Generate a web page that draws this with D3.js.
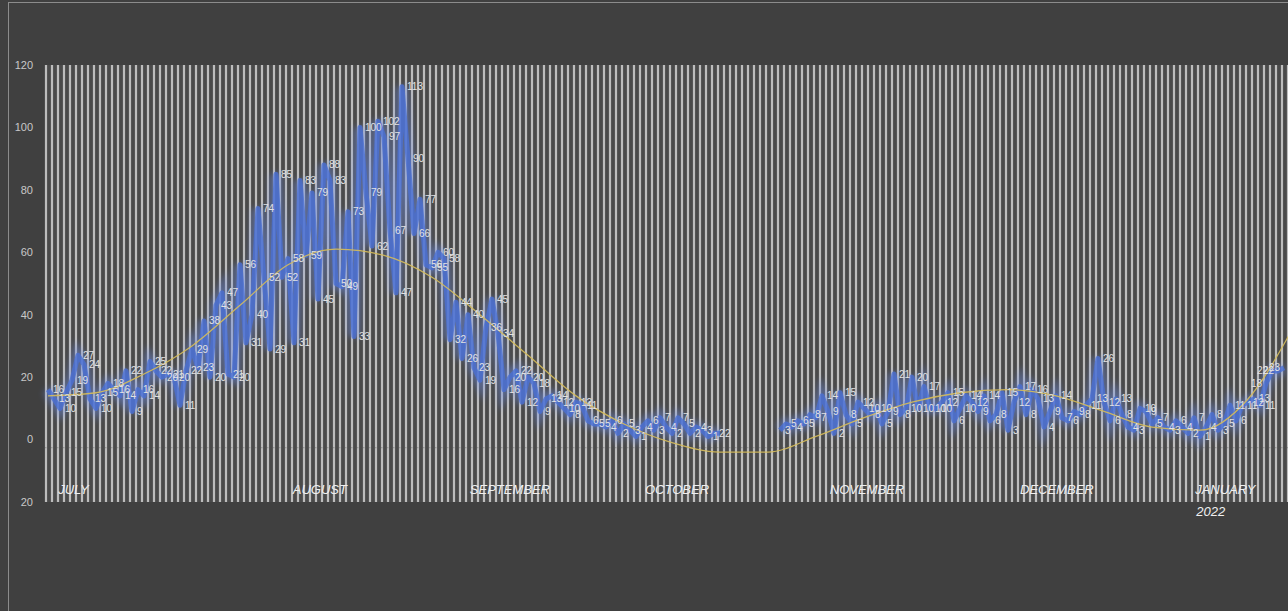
<!DOCTYPE html>
<html><head><meta charset="utf-8">
<script src="https://cdn.jsdelivr.net/npm/d3@7"></script>
<style>
body{margin:0;background:#404040;overflow:hidden}
svg{display:block}
text{font-family:"Liberation Sans","DejaVu Sans",sans-serif}
</style>
</head><body>
<svg id="chart" width="1288" height="611"></svg>
<script>
// Daily values (index 0 = first day of July 2021); null = no data
const dailyValues = [
 16,13,10,15,19,27,24,13,10,15,18,16,14,22,9,16,14,25,22,20,
 21,20,11,22,29,23,38,20,43,47,21,20,56,31,40,74,52,29,85,52,
 58,31,83,59,79,45,88,83,50,49,73,33,100,79,62,102,97,67,47,113,
 90,66,77,56,55,60,58,32,44,26,40,23,19,36,45,34,16,20,22,12,
 20,18,9,13,14,12,10,8,12,11,6,5,5,4,6,2,5,3,1,4,
 6,3,7,4,2,7,5,2,4,3,1,2,2,null,null,null,null,null,null,null,
 null,null,3,5,4,6,5,8,7,14,9,2,15,8,5,12,10,8,10,5,
 9,21,8,10,20,10,17,10,10,12,15,6,10,14,12,9,14,6,8,15,
 3,12,17,8,16,13,4,9,14,7,6,9,8,11,13,26,12,6,13,8,
 4,3,10,9,5,7,4,3,6,4,2,7,1,4,8,3,5,11,6,11,
 12,13,11,18,22,22,23
];
// Trend line values read at category indices
const trendIndex  = [0,8,16,24,32,40,48,56,64,72,80,88,96,104,112,120,128,136,144,152,160,168,176,184,192,200,207];
const trendValues = [14,15,21,30,43,56,61,59,52,40,27,14,5,-1,-4,-4,1,7,12,15,16,14,9,4,3,13,34];
// Category-axis labels
const monthLabels = ["JULY","AUGUST","SEPTEMBER","OCTOBER","NOVEMBER","DECEMBER","JANUARY"];
const monthLabelIndex = [1.7,40.8,70.3,99.5,130.3,162,191.2];
const yearLabel = "2022";
const yTicks = [120,100,80,60,40,20,0,-20];
const yTickText = ["120","100","80","60","40","20","0","20"];
const nCategories = 208;

const svg = d3.select("#chart");
const W = 1288, H = 611;
const x = d3.scaleLinear().domain([0, nCategories - 1]).range([48, 48 + (nCategories - 1) * 6]);
const y = d3.scaleLinear().domain([-20, 120]).range([502, 65]);

// background + chart border
svg.append("rect").attr("width", W).attr("height", H).attr("fill", "#404040");
svg.append("rect").attr("x", 8.5).attr("y", 2.5).attr("width", W).attr("height", H)
  .attr("fill", "none").attr("stroke", "#8c8c8c").attr("stroke-width", 1);

const defs = svg.append("defs");
const glow = defs.append("filter").attr("id", "glow").attr("x", "-10%").attr("y", "-10%").attr("width", "120%").attr("height", "120%");
glow.append("feGaussianBlur").attr("stdDeviation", 3);
const soft = defs.append("filter").attr("id", "soft");
soft.append("feGaussianBlur").attr("stdDeviation", 0.4);

// plot background
svg.append("rect").attr("x", 45).attr("y", y(120)).attr("width", W - 45).attr("height", y(-20) - y(120)).attr("fill", "#4a4a4a");

// vertical gridlines (one per category)
svg.append("g").attr("filter", "url(#soft)").selectAll("line").data(d3.range(nCategories)).join("line")
  .attr("x1", d => x(d) - 2).attr("x2", d => x(d) - 2)
  .attr("y1", y(120)).attr("y2", y(-20))
  .attr("stroke", "#bdbdbd").attr("stroke-width", 2.2);

// dotted baseline
svg.append("line").attr("x1", 45).attr("x2", W).attr("y1", y(-2.6)).attr("y2", y(-2.6))
  .attr("stroke", "#9a9a9a").attr("stroke-width", 1.2).attr("stroke-dasharray", "1.5,4.5");

// y axis labels
const yAx = svg.append("g");
yAx.selectAll("text").data(yTicks).join("text")
  .attr("x", 33).attr("y", d => y(d)).attr("dy", "0.35em").attr("text-anchor", "end")
  .attr("fill", "#c8c8c8").attr("font-size", 11).text((d, i) => yTickText[i]);

// series line (blue with glow)
const pts = dailyValues.map((v, i) => ({i, v}));
const line = d3.line().defined(d => d.v !== null).x(d => x(d.i)).y(d => y(d.v));
svg.append("path").datum(pts).attr("d", line).attr("fill", "none")
  .attr("stroke", "#6f8fe8").attr("stroke-width", 12).attr("opacity", 0.45).attr("filter", "url(#glow)");
svg.append("path").datum(pts).attr("d", line).attr("fill", "none")
  .attr("stroke", "#4a6fd3").attr("stroke-width", 5).attr("opacity", 0.8).attr("stroke-linejoin", "round");

// trend line
const tpts = trendIndex.map((t, k) => ({i: t, v: trendValues[k]}));
svg.append("path").datum(tpts)
  .attr("d", d3.line().curve(d3.curveMonotoneX).x(d => x(d.i)).y(d => y(d.v)))
  .attr("fill", "none").attr("stroke", "#d6bc5a").attr("stroke-width", 1.3).attr("opacity", 0.9);

// data labels
const lastIdx = dailyValues.length - 1;
svg.append("g").selectAll("text").data(pts.filter(d => d.v !== null)).join("text")
  .attr("x", d => d.i > lastIdx - 4 ? x(d.i) - 4 : x(d.i) + 5)
  .attr("text-anchor", d => d.i > lastIdx - 4 ? "end" : "start")
  .attr("y", d => y(d.v)).attr("dy", "0.35em")
  .attr("fill", "#e2e2e2").attr("font-size", 10).text(d => d.v);

// month labels
const ml = svg.append("g");
ml.selectAll("text").data(monthLabels).join("text")
  .attr("x", (d, i) => x(monthLabelIndex[i])).attr("y", 494)
  .attr("fill", "#f0f0f0").attr("font-size", 13).attr("font-style", "italic")
  .text(d => d);
ml.append("text").attr("x", x(monthLabelIndex[6]) + 1).attr("y", 516)
  .attr("fill", "#f0f0f0").attr("font-size", 13).attr("font-style", "italic").text(yearLabel);
</script>
</body></html>
